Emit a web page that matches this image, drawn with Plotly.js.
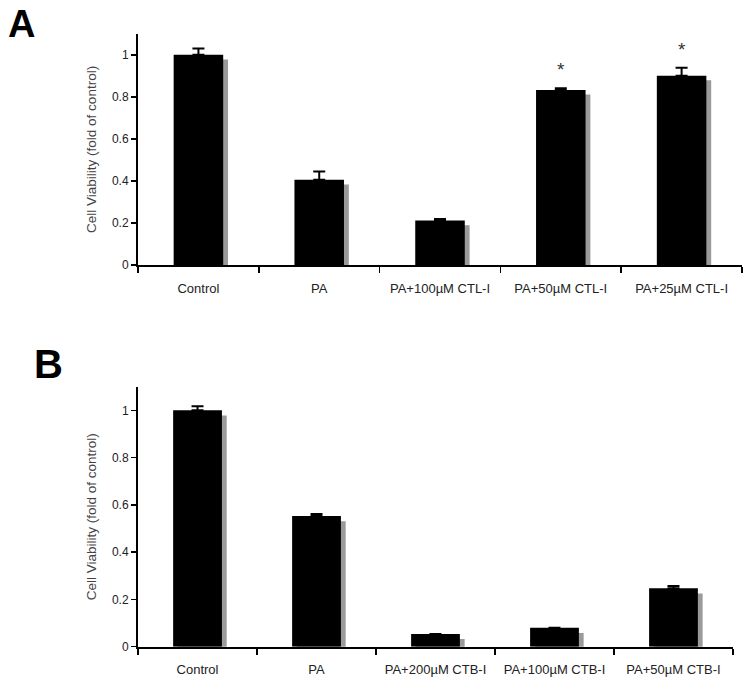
<!DOCTYPE html>
<html>
<head>
<meta charset="utf-8">
<script src="https://cdn.plot.ly/plotly-3.0.1.min.js"></script>
<style>
  html, body { margin: 0; padding: 0; background: #fff; }
  #plot { width: 751px; height: 690px; }
</style>
</head>
<body>
<div id="plot"></div>
<script>
// Panel A: CTL-I
var catsA = ['Control', 'PA', 'PA+100µM CTL-I', 'PA+50µM CTL-I', 'PA+25µM CTL-I'];
var valsA = [1.0, 0.405, 0.211, 0.833, 0.901];
var errA = [0.03, 0.04, 0.008, 0.008, 0.038];
var sigA = ['', '', '', '*', '*'];

// Panel B: CTB-I
var catsB = ['Control', 'PA', 'PA+200µM CTB-I', 'PA+100µM CTB-I', 'PA+50µM CTB-I'];
var valsB = [1.0, 0.553, 0.054, 0.080, 0.247];
var errB = [0.017, 0.008, 0.0, 0.0, 0.01];

var yTicks = [0, 0.2, 0.4, 0.6, 0.8, 1];
var yTickText = ['0', '0.2', '0.4', '0.6', '0.8', '1'];

var FONT = 'Liberation Sans, Arial, sans-serif';
var barW = 0.41;
var shadowShift = 0.04;   // shadow offset to the right (category units)
var shadowDrop = -0.022;  // shadow sits a little lower

function zeros(n) { return new Array(n).fill(0); }

function panel(cats, vals, errs, xa, ya) {
    var shadow = {
        type: 'bar',
        x: cats, y: vals,
        base: shadowDrop,
        width: barW,
        offset: -barW / 2 + shadowShift,
        marker: {color: '#9a9a9a', line: {width: 0}},
        xaxis: xa, yaxis: ya,
        hoverinfo: 'skip'
    };
    var bars = {
        type: 'bar',
        x: cats, y: vals,
        width: barW,
        marker: {color: '#000000', line: {width: 0}},
        error_y: {
            type: 'data', symmetric: false,
            array: errs, arrayminus: zeros(errs.length),
            color: '#000', thickness: 2, width: 6
        },
        xaxis: xa, yaxis: ya
    };
    return [shadow, bars];
}

var data = panel(catsA, valsA, errA, 'x', 'y').concat(panel(catsB, valsB, errB, 'x2', 'y2'));

var xCommon = {
    type: 'category',
    range: [-0.5, 4.5],
    showline: true, linecolor: '#000', linewidth: 2,
    ticks: 'outside', tickson: 'boundaries', ticklen: 6, tickwidth: 1.5, tickcolor: '#000',
    showgrid: false, zeroline: false,
    ticklabelstandoff: 10,
    tickfont: {family: FONT, size: 13, color: '#222'},
    fixedrange: true
};
var yCommon = {
    range: [0, 1.1],
    tickvals: yTicks, ticktext: yTickText,
    showline: true, linecolor: '#000', linewidth: 2,
    ticks: 'outside', ticklen: 5, tickwidth: 1.5, tickcolor: '#000',
    showgrid: false, zeroline: false,
    tickfont: {family: FONT, size: 12, color: '#222'},
    title: {text: 'Cell Viability (fold of control)', font: {family: FONT, size: 13.5, color: '#444'}, standoff: 12},
    fixedrange: true
};

var annotations = [];
sigA.forEach(function (s, i) {
    if (!s) return;
    annotations.push({
        xref: 'x', yref: 'y', x: catsA[i], y: valsA[i] + errA[i],
        text: s, showarrow: false, yanchor: 'bottom', yshift: 6,
        font: {family: FONT, size: 19, color: '#333'}
    });
});
annotations.push({xref: 'paper', yref: 'paper', x: 0.028, y: 0.965, xanchor: 'center', yanchor: 'middle',
    text: '<b>A</b>', showarrow: false, font: {family: FONT, size: 38, color: '#000'}});
annotations.push({xref: 'paper', yref: 'paper', x: 0.0646, y: 0.4725, xanchor: 'center', yanchor: 'middle',
    text: '<b>B</b>', showarrow: false, font: {family: FONT, size: 40, color: '#000'}});

var layout = {
    width: 751, height: 690,
    margin: {l: 0, r: 0, t: 0, b: 0},
    paper_bgcolor: '#fff', plot_bgcolor: '#fff',
    barmode: 'overlay',
    showlegend: false,
    xaxis: Object.assign({}, xCommon, {domain: [0.1838, 0.988], anchor: 'y'}),
    yaxis: Object.assign({}, yCommon, {domain: [0.616, 0.951], anchor: 'x'}),
    xaxis2: Object.assign({}, xCommon, {domain: [0.1838, 0.976], anchor: 'y2'}),
    yaxis2: Object.assign({}, yCommon, {domain: [0.0628, 0.4396], anchor: 'x2'}),
    annotations: annotations
};

Plotly.newPlot('plot', data, layout, {displayModeBar: false, staticPlot: true});
</script>
</body>
</html>
